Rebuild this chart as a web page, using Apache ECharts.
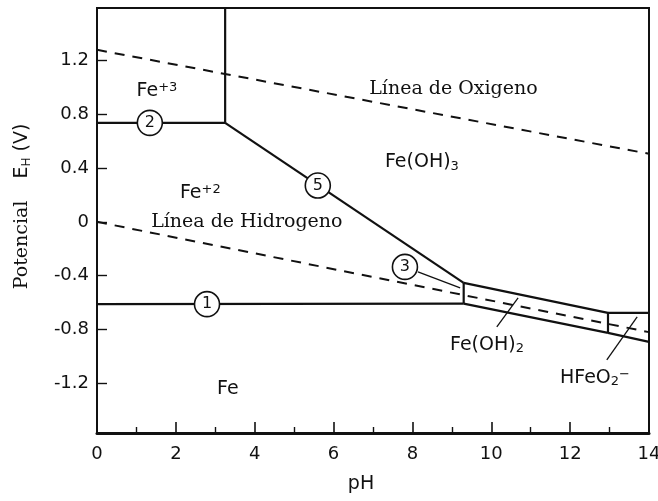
<!DOCTYPE html>
<html>
<head>
<meta charset="utf-8">
<script src="https://cdn.jsdelivr.net/npm/echarts@6/dist/echarts.min.js"></script>
<style>
html,body{margin:0;padding:0;background:#fff;}
#chart{width:658px;height:501px;}
</style>
</head>
<body>
<div id="chart"></div>
<script>
// ---- data (pH, E in V) ----
const xTicks = [0, 2, 4, 6, 8, 10, 12, 14];
const yTickValues = [-1.2, -0.8, -0.4, 0, 0.4, 0.8, 1.2];
const yTickLabels = ['-1.2', '-0.8', '-0.4', '0', '0.4', '0.8', '1.2'];

const oxygenLine = [[0, 1.279], [14, 0.506]];
const hydrogenLine = [[0, 0.0], [14, -0.82]];

const line2 = [[0, 0.736], [3.25, 0.736]];
const verticalFe3 = [[3.25, 0.736], [3.25, 1.59]];
const line5 = [[3.25, 0.736], [9.3, -0.454]];
const line1 = [[0, -0.612], [9.3, -0.608]];
const vert93 = [[9.3, -0.454], [9.3, -0.608]];
const feoh2Upper = [[9.3, -0.454], [12.96, -0.677]];
const feoh2Lower = [[9.3, -0.608], [12.96, -0.825]];
const vert1296 = [[12.96, -0.677], [12.96, -0.825]];
const hfeUpper = [[12.96, -0.677], [14, -0.677]];
const hfeLower = [[12.96, -0.825], [14, -0.892]];

const leader3 = [[8.14, -0.372], [9.21, -0.491]];
const leaderFeOH2 = [[10.14, -0.781], [10.68, -0.565]];
const leaderHFeO2 = [[12.93, -1.026], [13.7, -0.706]];

const circleMarks = [
  [2.79, -0.612, '1'],
  [1.34, 0.736, '2'],
  [7.81, -0.335, '3'],
  [5.6, 0.27, '5']
];

const annotations = [
  [1.52, 0.975, '{f|Fe}{sup|+3}'],
  [2.62, 0.215, '{f|Fe}{sup|+2}'],
  [3.80, 0.0, '{s|Línea de Hidrogeno}'],
  [9.04, 0.99, '{s|Línea de Oxigeno}'],
  [8.24, 0.44, '{t|Fe(OH)}{sub|3}'],
  [3.32, -1.24, '{f|Fe}'],
  [9.89, -0.92, '{t|Fe(OH)}{sub|2}'],
  [12.63, -1.165, '{t|HFeO}{sub|2}{sup|−}']
];

const solidSegments = [line2, verticalFe3, line5, line1, vert93, feoh2Upper, feoh2Lower, vert1296, hfeUpper, hfeLower];
const leaderSegments = [leader3, leaderFeOH2, leaderHFeO2];

// ---- chart ----
const chart = echarts.init(document.getElementById('chart'), null, {renderer: 'canvas'});
const INK = '#111';
const SANS = 'DejaVu Sans';
const SERIF = 'DejaVu Serif';

const series = [];
series.push({
  type: 'line', data: oxygenLine, symbol: 'none', silent: true,
  lineStyle: {color: INK, width: 2, type: [10, 8]}
});
series.push({
  type: 'line', data: hydrogenLine, symbol: 'none', silent: true,
  lineStyle: {color: INK, width: 2, type: [10, 8]}
});
solidSegments.forEach(seg => series.push({
  type: 'line', data: seg, symbol: 'none', silent: true,
  lineStyle: {color: INK, width: 2.2}
}));
leaderSegments.forEach(seg => series.push({
  type: 'line', data: seg, symbol: 'none', silent: true,
  lineStyle: {color: INK, width: 1.3}
}));
series.push({
  type: 'scatter', z: 5, silent: true,
  data: circleMarks.map(c => ({value: [c[0], c[1]], name: c[2]})),
  symbol: 'circle', symbolSize: [25, 25],
  itemStyle: {color: '#fff', borderColor: INK, borderWidth: 1.6, opacity: 1},
  label: {show: true, position: 'inside', formatter: p => p.name,
    fontFamily: SANS, fontSize: 16, color: INK}
});
series.push({
  type: 'scatter', z: 6, silent: true,
  data: annotations.map(a => ({value: [a[0], a[1]], name: a[2]})),
  symbol: 'circle', symbolSize: 1,
  itemStyle: {color: 'rgba(0,0,0,0)', opacity: 1},
  label: {
    show: true, position: 'inside', formatter: p => p.name, color: INK,
    rich: {
      f: {fontFamily: SANS, fontSize: 19, color: INK, lineHeight: 20, verticalAlign: 'bottom'},
      sup: {fontFamily: SANS, fontSize: 13, color: INK, lineHeight: 14, padding: [0, 0, 10, 0], verticalAlign: 'top'},
      t: {fontFamily: SANS, fontSize: 19, color: INK, lineHeight: 20, verticalAlign: 'top'},
      sub: {fontFamily: SANS, fontSize: 13, color: INK, lineHeight: 14, padding: [10, 0, 0, 0], verticalAlign: 'bottom'},
      s: {fontFamily: SERIF, fontSize: 19, color: INK, lineHeight: 22}
    }
  },
  labelLayout: {hideOverlap: false}
});

chart.setOption({
  animation: false,
  backgroundColor: '#fff',
  grid: {left: 97, right: 9, top: 8, bottom: 68, outerBoundsMode: 'none', containLabel: false,
    show: true, borderColor: INK, borderWidth: 2, backgroundColor: 'transparent'},
  xAxis: {
    type: 'value', min: 0, max: 14, interval: 2,
    name: 'pH', nameLocation: 'middle', nameGap: 42,
    nameTextStyle: {fontFamily: SANS, fontSize: 19, color: INK, padding: [0, 24, 0, 0]},
    axisLine: {show: true, onZero: false, lineStyle: {color: INK, width: 3}},
    axisTick: {show: true, inside: true, length: 11, lineStyle: {color: INK, width: 1.6}},
    minorTick: {show: true, splitNumber: 2, length: 6, lineStyle: {color: INK, width: 1.4}},
    axisLabel: {margin: 12, fontFamily: SANS, fontSize: 18, color: INK,
      formatter: v => xTicks.indexOf(v) >= 0 ? String(v) : ''},
    splitLine: {show: false}
  },
  yAxis: {
    type: 'value', min: -1.57, max: 1.59,
    name: '{s|Potencial}{gap| }{e|E}{sub|H}{e| (V)}', nameLocation: 'middle', nameGap: 64, nameRotate: 90,
    nameTextStyle: {
      padding: [0, 0, 0, 28],
      rich: {
        s: {fontFamily: SERIF, fontSize: 19, color: INK, lineHeight: 22},
        gap: {fontFamily: SANS, fontSize: 19, width: 22},
        e: {fontFamily: SANS, fontSize: 19, color: INK, lineHeight: 22},
        sub: {fontFamily: SANS, fontSize: 12, color: INK, lineHeight: 14, padding: [8, 0, 0, 0], verticalAlign: 'bottom'}
      }
    },
    axisLine: {show: true, onZero: false, lineStyle: {color: INK, width: 2}},
    axisTick: {show: true, inside: true, length: 10, customValues: yTickValues, lineStyle: {color: INK, width: 1.4}},
    axisLabel: {margin: 8, fontFamily: SANS, fontSize: 18, color: INK, customValues: yTickValues,
      formatter: v => {
        const i = yTickValues.findIndex(t => Math.abs(t - v) < 1e-6);
        return i >= 0 ? yTickLabels[i] : '';
      }},
    splitLine: {show: false}
  },
  series: series
});
</script>
</body>
</html>
